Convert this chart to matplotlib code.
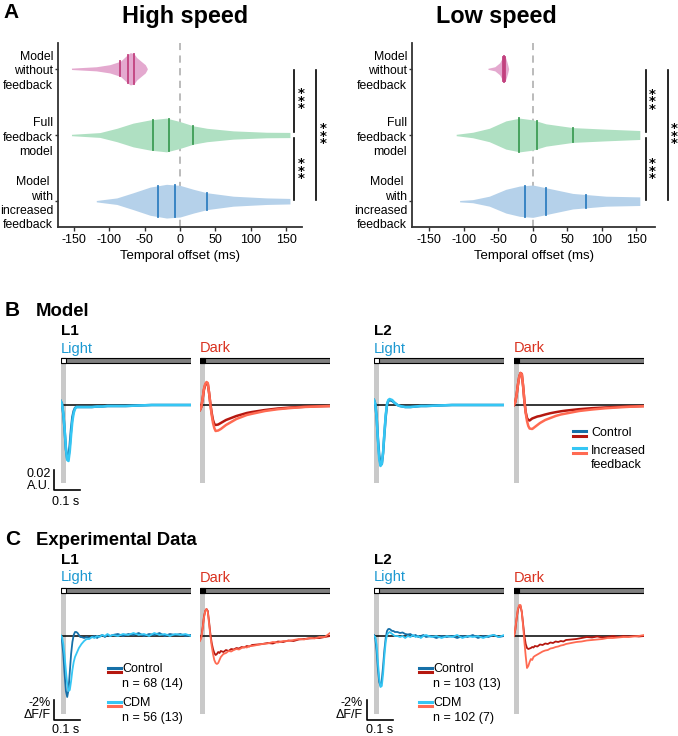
import numpy as np
import matplotlib
matplotlib.use('Agg')
import matplotlib.pyplot as plt
from matplotlib.patches import Rectangle

plt.rcParams['font.family'] = ['Liberation Sans', 'DejaVu Sans']

W, H = 678, 736

# ---------------- panel A: temporal offset violins ----------------
categories = ['Model\nwithout\nfeedback', 'Full\nfeedback\nmodel', 'Model \nwith\nincreased\nfeedback']
offset_ticks = [-150, -100, -50, 0, 50, 100, 150]

# outline of each violin: offset (ms) and relative half width
high_nofb_x = [-153, -118, -99, -84, -74, -70, -65, -61, -54, -49, -47, -46]
high_nofb_w = [0.04, 0.12, 0.24, 0.44, 0.82, 0.94, 0.88, 0.65, 0.41, 0.24, 0.09, 0.0]
high_full_x = [-153, -113, -89, -66, -42, -19, 0, 19, 38, 75, 122, 155]
high_full_w = [0.04, 0.14, 0.39, 0.69, 0.88, 0.98, 0.78, 0.53, 0.39, 0.24, 0.16, 0.15]
high_inc_x = [-118, -89, -66, -42, -19, 0, 19, 38, 75, 122, 155]
high_inc_w = [0.04, 0.19, 0.49, 0.82, 0.98, 0.92, 0.69, 0.49, 0.29, 0.19, 0.16]

low_nofb_x = [-65, -55, -48, -44, -42, -40, -38, -36, -35]
low_nofb_w = [0.03, 0.12, 0.35, 0.65, 0.76, 0.71, 0.47, 0.18, 0.0]
low_full_x = [-111, -87, -63, -39, -19, 0, 19, 58, 106, 155]
low_full_w = [0.04, 0.16, 0.39, 0.82, 0.98, 0.88, 0.65, 0.43, 0.34, 0.26]
low_inc_x = [-106, -87, -63, -39, -19, 0, 19, 58, 106, 155]
low_inc_w = [0.04, 0.09, 0.29, 0.69, 0.88, 0.94, 0.78, 0.45, 0.29, 0.25]

# quartiles (ms)
high_quart = [[-84, -74, -65.5], [-38.6, -15.5, 18.8], [-30.6, -7, 38.6]]
low_quart = [[-43, -41.5, -40], [-20, 6, 58], [-11.5, 19, 77]]

fill_cols = ['#e4a9cf', '#afe0c2', '#b5d1ea']
quart_cols = ['#c2417f', '#3d9d55', '#2f7fc1']

# ---------------- panels B / C: response traces ----------------
t_mod = [0, 5, 10, 15, 20, 25, 30, 35, 40, 45, 50, 55, 60, 70, 80, 90, 100,
         120, 140, 160, 180, 200, 250, 300, 350, 400, 450, 500]

mod_L1_light_ctrl = [0.004, 0.001, -0.009, -0.025, -0.044, -0.054, -0.052, -0.040, -0.024, -0.012, -0.006, -0.003, -0.002,
                     -0.002, -0.002, -0.002, -0.002, -0.002, -0.0015, -0.0015, -0.001, -0.001, -0.001, -0.0005, 0, 0, 0, 0]
mod_L1_light_inc = [0.004, 0.001, -0.008, -0.024, -0.043, -0.055, -0.056, -0.046, -0.030, -0.016, -0.008, -0.004, -0.002,
                    -0.002, -0.002, -0.002, -0.002, -0.002, -0.0015, -0.0015, -0.001, -0.001, -0.001, -0.0005, 0, 0, 0, 0]
mod_L1_dark_ctrl = [-0.005, -0.002, 0.006, 0.015, 0.020, 0.022, 0.021, 0.012, 0.001, -0.008, -0.015, -0.019, -0.020,
                    -0.0195, -0.018, -0.0165, -0.015, -0.013, -0.011, -0.0095, -0.008, -0.007, -0.005, -0.0035,
                    -0.0025, -0.0018, -0.0012, -0.001]
mod_L1_dark_inc = [-0.005, -0.002, 0.006, 0.016, 0.021, 0.023, 0.022, 0.012, 0.000, -0.010, -0.018, -0.023, -0.026,
                   -0.0255, -0.024, -0.022, -0.020, -0.017, -0.014, -0.012, -0.010, -0.0088, -0.006, -0.0042,
                   -0.003, -0.002, -0.0015, -0.001]
mod_L2_light_ctrl = [0.005, 0.001, -0.012, -0.033, -0.050, -0.059, -0.059, -0.048, -0.029, -0.012, 0.000, 0.004, 0.005,
                     0.004, 0.002, 0.000, -0.001, -0.002, -0.002, -0.0015, -0.001, -0.001, -0.0005, 0, 0, 0, 0, 0]
mod_L2_light_inc = [0.005, 0.001, -0.012, -0.035, -0.054, -0.061, -0.059, -0.047, -0.028, -0.010, 0.001, 0.005, 0.006,
                    0.005, 0.002, 0.000, -0.001, -0.002, -0.002, -0.0015, -0.001, -0.001, -0.0005, 0, 0, 0, 0, 0]
mod_L2_dark_ctrl = [0.0, 0.003, 0.010, 0.020, 0.028, 0.032, 0.031, 0.019, 0.004, -0.007, -0.013, -0.015, -0.0155,
                    -0.0135, -0.0125, -0.0115, -0.011, -0.0095, -0.0082, -0.0072, -0.0063, -0.0056, -0.0042,
                    -0.0032, -0.0025, -0.0019, -0.0014, -0.001]
mod_L2_dark_inc = [0.0, 0.003, 0.010, 0.020, 0.028, 0.032, 0.031, 0.019, 0.004, -0.008, -0.016, -0.021, -0.0235,
                   -0.024, -0.022, -0.020, -0.018, -0.015, -0.013, -0.011, -0.0095, -0.0085, -0.006, -0.0045,
                   -0.0033, -0.0024, -0.0017, -0.0012]

t_exp = [0, 5, 10, 15, 20, 25, 30, 35, 40, 45, 50, 55, 60, 65, 70, 75, 80, 90, 100, 110, 120, 130, 140,
         150, 160, 170, 180, 190, 200, 220, 240, 260, 280, 300, 320, 340, 360, 380, 400, 420, 440, 460, 480, 500]

exp_L1_light_ctrl = [0.0, -0.5, -1.8, -3.8, -5.5, -6.1, -5.4, -3.6, -1.8, -0.6, 0.1, 0.4, 0.4, 0.3, 0.1, -0.1, -0.1,
                     -0.2, -0.1, -0.2, -0.1, 0.0, -0.2, 0.0, 0.1, -0.1, 0.1, 0.0, 0.1, 0.2, 0.0, 0.2, 0.1, 0.3,
                     0.0, 0.2, 0.1, 0.3, 0.0, 0.2, 0.1, 0.2, 0.0, 0.1]
exp_L1_light_cdm = [0.1, -0.1, -0.8, -2.0, -3.5, -4.8, -5.5, -5.4, -4.5, -3.4, -2.6, -2.1, -1.8, -1.5, -1.2, -1.0, -0.8,
                    -0.5, -0.3, -0.3, -0.1, -0.2, 0.0, -0.1, 0.1, 0.0, 0.2, 0.0, 0.1, 0.0, 0.2, 0.1, 0.3, 0.1,
                    0.2, 0.0, 0.3, 0.1, 0.2, 0.0, 0.2, 0.1, 0.2, 0.0]
exp_L1_dark_ctrl = [-0.4, -0.1, 0.8, 1.9, 2.5, 2.7, 2.5, 1.4, 0.2, -0.7, -1.3, -1.7, -1.9, -1.8, -1.6, -1.7, -1.5,
                    -1.6, -1.4, -1.5, -1.3, -1.35, -1.2, -1.25, -1.1, -1.15, -1.0, -1.05, -0.9, -0.85, -0.8, -0.7,
                    -0.75, -0.55, -0.6, -0.45, -0.5, -0.35, -0.3, -0.25, -0.2, -0.2, -0.1, 0.0]
exp_L1_dark_cdm = [-0.5, -0.2, 0.7, 1.8, 2.5, 2.7, 2.4, 1.2, 0.0, -1.0, -1.8, -2.4, -2.7, -2.8, -2.7, -2.4, -2.1,
                   -1.8, -1.7, -1.5, -1.55, -1.4, -1.3, -1.35, -1.2, -1.1, -1.15, -1.0, -1.0, -0.9, -0.8, -0.75,
                   -0.6, -0.65, -0.5, -0.5, -0.4, -0.3, -0.35, -0.2, -0.25, -0.1, -0.1, 0.3]
exp_L2_light_ctrl = [0.1, -0.3, -1.5, -3.3, -4.6, -5.0, -4.4, -3.0, -1.4, -0.2, 0.5, 0.7, 0.7, 0.6, 0.5, 0.5, 0.4,
                     0.4, 0.3, 0.35, 0.2, 0.15, 0.2, 0.0, 0.1, -0.1, 0.0, 0.1, -0.1, 0.0, -0.2, 0.0, -0.1, 0.0,
                     -0.2, 0.0, -0.1, 0.1, -0.2, 0.0, -0.1, 0.1, -0.1, 0.0]
exp_L2_light_cdm = [0.0, -0.1, -0.9, -2.6, -4.2, -5.1, -5.0, -3.8, -2.0, -0.6, 0.1, 0.3, 0.4, 0.3, 0.2, 0.1, 0.0,
                    0.0, -0.1, 0.0, -0.2, 0.0, -0.1, 0.1, -0.1, 0.0, -0.2, 0.0, 0.1, -0.1, 0.0, -0.2, 0.0, -0.1,
                    0.1, -0.2, 0.0, -0.1, 0.0, -0.2, 0.0, 0.1, -0.1, 0.1]
exp_L2_dark_ctrl = [0.0, 0.6, 1.7, 2.6, 3.0, 3.0, 2.4, 1.2, 0.0, -0.8, -1.2, -1.3, -1.25, -1.2, -1.1, -1.15, -1.0,
                    -1.05, -0.85, -0.9, -0.75, -0.8, -0.65, -0.7, -0.55, -0.6, -0.5, -0.55, -0.4, -0.35, -0.3, -0.2,
                    -0.1, -0.15, -0.05, -0.15, -0.1, 0.0, -0.1, 0.0, -0.05, 0.0, -0.05, 0.0]
exp_L2_dark_cdm = [0.0, 0.7, 1.8, 2.7, 3.1, 3.1, 2.4, 1.0, -0.6, -2.0, -3.2, -3.0, -2.6, -2.3, -2.4, -2.1, -2.0,
                   -1.85, -1.7, -1.55, -1.45, -1.4, -1.25, -1.2, -1.1, -1.05, -0.95, -0.9, -0.8, -0.7, -0.6, -0.55,
                   -0.45, -0.4, -0.35, -0.3, -0.2, -0.2, -0.15, -0.1, -0.1, -0.05, 0.0, 0.1]

ctrl_blue, inc_blue = '#1670a8', '#35c6f4'
ctrl_red, inc_red = '#b5170f', '#ff6a52'
light_txt, dark_txt = '#1b98d1', '#d9311f'

fig = plt.figure(figsize=(W / 100, H / 100), dpi=100)

ov = fig.add_axes([0, 0, 1, 1])
ov.set_xlim(0, W)
ov.set_ylim(H, 0)
ov.axis('off')


def px_rect(x0, y0, x1, y1):
    return [x0 / W, 1 - y1 / H, (x1 - x0) / W, (y1 - y0) / H]


def violin_panel(rect, xlim, outlines, quarts, sig_x, star_pos):
    ax = fig.add_axes(rect)
    scale = 0.26
    for i, (xs, ws) in enumerate(outlines):
        xs = np.array(xs, float)
        ws = np.array(ws, float) * scale
        ax.fill_between(xs, i - ws, i + ws, color=fill_cols[i], lw=0, zorder=2)
        for q in quarts[i]:
            h = np.interp(q, xs, ws)
            ax.plot([q, q], [i - h, i + h], color=quart_cols[i], lw=1.3, zorder=3)
    ax.axvline(0, color='#b5b5b5', lw=1.3, ls=(0, (4, 3)), zorder=1)
    ax.set_xlim(*xlim)
    ax.set_ylim(2.39, -0.39)
    ax.set_yticks([0, 1, 2])
    ax.set_yticklabels(categories, fontsize=8.8, linespacing=1.25)
    ax.set_xticks(offset_ticks)
    ax.set_xticklabels([str(v) for v in offset_ticks], fontsize=9)
    ax.tick_params(axis='y', length=2, width=1, pad=1.5, color='#333333')
    ax.tick_params(axis='x', length=3, width=1, pad=2, color='#333333')
    ax.set_xlabel('Temporal offset (ms)', fontsize=9.5, labelpad=3)
    for s in ['top', 'right']:
        ax.spines[s].set_visible(False)
    for s in ['left', 'bottom']:
        ax.spines[s].set_linewidth(1.3)
        ax.spines[s].set_color('#333333')
    # significance brackets
    ax.plot([sig_x[0]] * 2, [0.02, 0.95], color='k', lw=1.2, clip_on=False)
    ax.plot([sig_x[0]] * 2, [1.05, 1.98], color='k', lw=1.2, clip_on=False)
    ax.plot([sig_x[1]] * 2, [0.02, 1.98], color='k', lw=1.2, clip_on=False)
    for x, y in star_pos:
        ax.text(x, y + 0.05, '*\n*\n*', ha='center', va='center', fontsize=9.5,
                linespacing=0.45, family='DejaVu Sans', fontweight='bold', clip_on=False)
    return ax


violin_panel(px_rect(58, 43, 302, 227), (-172, 172),
             [(high_nofb_x, high_nofb_w), (high_full_x, high_full_w), (high_inc_x, high_inc_w)],
             high_quart, (161, 192), [(170.5, 0.44), (170.5, 1.5), (201.5, 0.97)])
violin_panel(px_rect(412, 43, 655, 227), (-175, 177),
             [(low_nofb_x, low_nofb_w), (low_full_x, low_full_w), (low_inc_x, low_inc_w)],
             low_quart, (164, 196), [(173.5, 0.45), (173.5, 1.5), (205, 0.97)])

ov.text(3, 18.5, 'A', fontsize=15, fontweight='bold')
ov.text(185, 22.7, 'High speed', fontsize=16.8, fontweight='bold', ha='center')
ov.text(496, 22.7, 'Low speed', fontsize=16.8, fontweight='bold', ha='center')


def trace_panel(x0, zero_y, top_y, bot_y, per_px, bar_y, light, traces, lw):
    ax = fig.add_axes(px_rect(x0, top_y, x0 + 130, bot_y))
    ax.set_xlim(0, 500)
    lo = (zero_y - bot_y) * per_px
    ax.set_ylim(lo, (zero_y - top_y) * per_px)
    ax.axis('off')
    b0 = (zero_y - bar_y[1]) * per_px
    b1 = (zero_y - bar_y[0]) * per_px
    ax.add_patch(Rectangle((0, lo), 20, b0 - lo, color='#c9c9c9', lw=0, zorder=1))
    ax.add_patch(Rectangle((0, b0), 500, b1 - b0, facecolor='#808080', edgecolor='k', lw=0.8, zorder=2))
    ax.add_patch(Rectangle((0, b0), 20, b1 - b0, facecolor='white' if light else 'black',
                           edgecolor='k', lw=0.8, zorder=3))
    ax.plot([0, 500], [0, 0], color='k', lw=1.1, zorder=2)
    for t, y, c in traces:
        ax.plot(t, y, color=c, lw=lw, zorder=4, solid_joinstyle='round')
    return ax


def scale_bar(ax, x_ms, y_top, y_bot, t_len):
    ax.plot([x_ms, x_ms, x_ms + t_len], [y_top, y_bot, y_bot], color='k', lw=1.2, clip_on=False)


# ---- B: model ----
bar_B = (358.3, 362.7)
a = trace_panel(60.7, 405, 357, 483, 0.001, bar_B, True,
                [(t_mod, mod_L1_light_ctrl, ctrl_blue), (t_mod, mod_L1_light_inc, inc_blue)], 1.8)
scale_bar(a, -26, -0.065, -0.085, 100)
trace_panel(200, 405, 357, 483, 0.001, bar_B, False,
            [(t_mod, mod_L1_dark_ctrl, ctrl_red), (t_mod, mod_L1_dark_inc, inc_red)], 1.8)
trace_panel(374, 405, 357, 483, 0.001, bar_B, True,
            [(t_mod, mod_L2_light_ctrl, ctrl_blue), (t_mod, mod_L2_light_inc, inc_blue)], 1.8)
trace_panel(514, 405, 357, 483, 0.001, bar_B, False,
            [(t_mod, mod_L2_dark_ctrl, ctrl_red), (t_mod, mod_L2_dark_inc, inc_red)], 1.8)

# ---- C: experimental ----
bar_C = (588.3, 592.7)
a = trace_panel(60.7, 636, 587, 714, 0.1, bar_C, True,
                [(t_exp, exp_L1_light_ctrl, ctrl_blue), (t_exp, exp_L1_light_cdm, inc_blue)], 1.3)
scale_bar(a, -26, -6.4, -8.4, 100)
trace_panel(200, 636, 587, 714, 0.1, bar_C, False,
            [(t_exp, exp_L1_dark_ctrl, ctrl_red), (t_exp, exp_L1_dark_cdm, inc_red)], 1.3)
a = trace_panel(374, 636, 587, 714, 0.1, bar_C, True,
                [(t_exp, exp_L2_light_ctrl, ctrl_blue), (t_exp, exp_L2_light_cdm, inc_blue)], 1.3)
scale_bar(a, -28, -6.4, -8.4, 100)
trace_panel(514, 636, 587, 714, 0.1, bar_C, False,
            [(t_exp, exp_L2_dark_ctrl, ctrl_red), (t_exp, exp_L2_dark_cdm, inc_red)], 1.3)

# ---- labels (pixel positions) ----
for lab, title, base in [('B', 'Model', 316), ('C', 'Experimental Data', 545)]:
    ov.text(5, base, lab, fontsize=15, fontweight='bold')
    ov.text(36, base, title, fontsize=13.3, fontweight='bold')
    off = base + 19
    ov.text(61, off, 'L1', fontsize=11, fontweight='bold')
    ov.text(374, off, 'L2', fontsize=11, fontweight='bold')
    for x, txt, col in [(61, 'Light', light_txt), (200, 'Dark', dark_txt),
                        (374, 'Light', light_txt), (514, 'Dark', dark_txt)]:
        ov.text(x, off + 17.5, txt, fontsize=10.5, color=col)

ov.text(51, 480, '0.02\nA.U.', fontsize=9, ha='right', va='center', linespacing=1.0)
ov.text(66, 502, '0.1 s', fontsize=9, ha='center', va='center')
for xr, xc in [(51, 66), (363, 380)]:
    ov.text(xr, 709, '-2%\n\u0394F/F', fontsize=9, ha='right', va='center', linespacing=1.0)
    ov.text(xc, 730, '0.1 s', fontsize=9, ha='center', va='center')


def legend_entry(x0, y_blue, y_red, blue, red, text_x, text_y, txt):
    ov.plot([x0, x0 + 13], [y_blue, y_blue], color=blue, lw=2.2)
    ov.plot([x0, x0 + 13], [y_red, y_red], color=red, lw=2.2)
    ov.text(text_x, text_y, txt, fontsize=9, va='top', linespacing=1.25)


legend_entry(573, 431, 435.7, ctrl_blue, ctrl_red, 591, 427, 'Control')
legend_entry(573, 448.3, 453.3, inc_blue, inc_red, 591, 445, 'Increased\nfeedback')
legend_entry(108, 667.7, 671.7, ctrl_blue, ctrl_red, 122, 663.5, 'Control\nn = 68 (14)')
legend_entry(108, 701.7, 705.7, inc_blue, inc_red, 122, 697.5, 'CDM\nn = 56 (13)')
legend_entry(419, 667.7, 671.7, ctrl_blue, ctrl_red, 433, 663.5, 'Control\nn = 103 (13)')
legend_entry(419, 701.7, 705.7, inc_blue, inc_red, 433, 697.5, 'CDM\nn = 102 (7)')

fig.savefig('out.png', dpi=100)
